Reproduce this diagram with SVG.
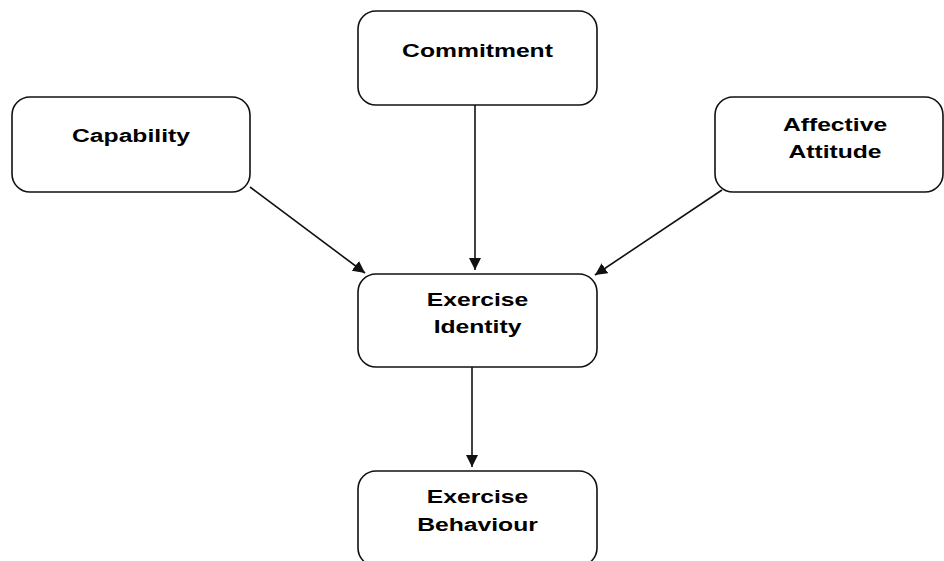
<svg xmlns="http://www.w3.org/2000/svg" width="944" height="561" viewBox="0 0 944 561">
<defs>
<style>
.box{fill:#fff;stroke:#111;stroke-width:1.6}
.lbl{font-family:"Liberation Sans",Arial,sans-serif;font-weight:bold;font-size:19px;fill:#000;text-anchor:middle}
.edge{stroke:#111;stroke-width:1.6;fill:none;marker-end:url(#ah)}
</style>
<marker id="ah" markerUnits="userSpaceOnUse" markerWidth="12" markerHeight="12" refX="12" refY="6" orient="auto">
<path d="M0,0 L12,6 L0,12 z" fill="#111"/>
</marker>
</defs>
<rect width="944" height="561" fill="#fff"/>
<g id="capability">
<rect class="box" x="12" y="97" width="238" height="95" rx="18"/>
<text class="lbl" transform="translate(131,142) scale(1.3,1)">Capability</text>
</g>
<g id="commitment">
<rect class="box" x="358" y="11" width="239" height="94" rx="18"/>
<text class="lbl" transform="translate(477.5,57) scale(1.3,1)">Commitment</text>
</g>
<g id="affective-attitude">
<rect class="box" x="715" y="97" width="228" height="95" rx="18"/>
<text class="lbl" transform="translate(835,131) scale(1.3,1)">Affective</text>
<text class="lbl" transform="translate(835,158) scale(1.3,1)">Attitude</text>
</g>
<g id="exercise-identity">
<rect class="box" x="358" y="274" width="239" height="93" rx="18"/>
<text class="lbl" transform="translate(477.5,306) scale(1.3,1)">Exercise</text>
<text class="lbl" transform="translate(477.5,333) scale(1.3,1)">Identity</text>
</g>
<g id="exercise-behaviour">
<rect class="box" x="358" y="471" width="239" height="95" rx="18"/>
<text class="lbl" transform="translate(477.5,503) scale(1.3,1)">Exercise</text>
<text class="lbl" transform="translate(477.5,531) scale(1.3,1)">Behaviour</text>
</g>
<g id="connectors">
<line class="edge" x1="250" y1="187" x2="365" y2="273"/>
<line class="edge" x1="475" y1="105" x2="475" y2="270"/>
<line class="edge" x1="722" y1="190" x2="595" y2="275"/>
<line class="edge" x1="472" y1="367" x2="472" y2="467"/>
</g>
</svg>
